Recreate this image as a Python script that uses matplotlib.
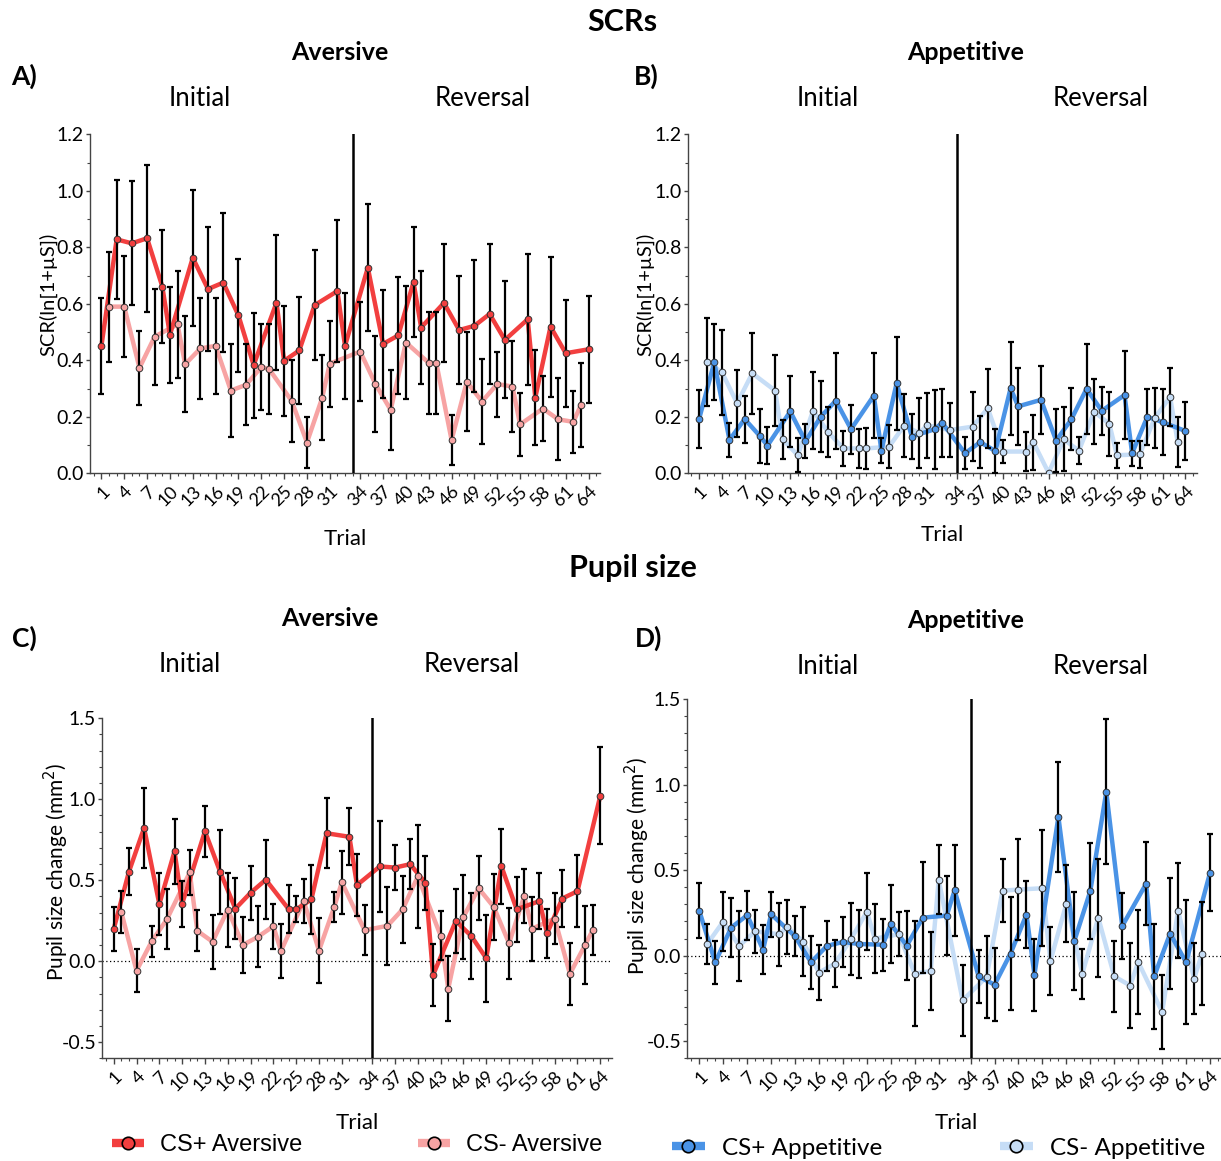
import numpy as np
import matplotlib
matplotlib.use('Agg')
import matplotlib.pyplot as plt
from matplotlib.lines import Line2D
from matplotlib.ticker import MultipleLocator, FormatStrFormatter

plt.rcParams['font.family'] = ['Lato', 'DejaVu Sans']

W, H = 1221, 1161

# trial positions on the x axis (one empty slot at the reversal)
csp_x = [1, 3, 5, 7, 9, 10, 13, 15, 17, 19, 21, 24, 25, 27, 29, 32, 33,
         36, 38, 40, 42, 43, 46, 48, 50, 52, 54, 57, 58, 60, 62, 65]
csm_x = [2, 4, 6, 8, 11, 12, 14, 16, 18, 20, 22, 23, 26, 28, 30, 31,
         34, 37, 39, 41, 44, 45, 47, 49, 51, 53, 55, 56, 59, 61, 63, 64]
csm_x_scr_av = [2, 4, 6, 8, 11, 12, 14, 16, 18, 20, 22, 23, 26, 28, 30, 31,
                35, 37, 39, 41, 44, 45, 47, 49, 51, 53, 55, 56, 59, 61, 63, 64]

tick_pos = list(range(1, 32, 3)) + list(range(35, 66, 3))
tick_lab = [str(t) for t in range(1, 32, 3)] + [str(t) for t in range(34, 65, 3)]

# A) SCR aversive
scr_av_p = [0.451, 0.828, 0.814, 0.832, 0.661, 0.49, 0.763, 0.652, 0.675, 0.559, 0.383,
            0.604, 0.398, 0.435, 0.595, 0.645, 0.451,
            0.728, 0.458, 0.488, 0.677, 0.516, 0.603, 0.507, 0.522, 0.564, 0.472,
            0.545, 0.268, 0.519, 0.425, 0.439]
scr_av_p_err = [0.17, 0.21, 0.22, 0.26, 0.2, 0.17, 0.24, 0.22, 0.245, 0.2, 0.186,
                0.24, 0.195, 0.19, 0.195, 0.25, 0.187,
                0.225, 0.19, 0.206, 0.195, 0.2, 0.21, 0.19, 0.233, 0.248, 0.207,
                0.232, 0.169, 0.248, 0.19, 0.19]
scr_av_m = [0.59, 0.59, 0.373, 0.484, 0.527, 0.386, 0.442, 0.451, 0.293, 0.313, 0.376,
            0.37, 0.256, 0.109, 0.267, 0.388,
            0.431, 0.316, 0.224, 0.463, 0.391, 0.39, 0.118, 0.324, 0.254, 0.316,
            0.307, 0.173, 0.229, 0.191, 0.182, 0.242]
scr_av_m_err = [0.195, 0.18, 0.13, 0.17, 0.19, 0.17, 0.18, 0.17, 0.165, 0.143, 0.153,
                0.16, 0.146, 0.092, 0.15, 0.152,
                0.174, 0.17, 0.143, 0.2, 0.18, 0.18, 0.087, 0.175, 0.15, 0.115,
                0.16, 0.112, 0.115, 0.145, 0.11, 0.149]

# B) SCR appetitive
scr_ap_p = [0.192, 0.393, 0.118, 0.192, 0.132, 0.098, 0.219, 0.113, 0.2, 0.257, 0.156,
            0.275, 0.08, 0.319, 0.13, 0.156, 0.179,
            0.071, 0.11, 0.079, 0.301, 0.237, 0.26, 0.116, 0.191, 0.299, 0.221,
            0.277, 0.071, 0.2, 0.181, 0.15]
scr_ap_p_err = [0.104, 0.135, 0.06, 0.083, 0.095, 0.065, 0.125, 0.06, 0.125, 0.17, 0.087,
                0.15, 0.045, 0.165, 0.08, 0.14, 0.12,
                0.056, 0.093, 0.077, 0.164, 0.137, 0.12, 0.113, 0.11, 0.16, 0.084,
                0.155, 0.045, 0.1, 0.117, 0.103]
scr_ap_m = [0.395, 0.358, 0.248, 0.354, 0.293, 0.12, 0.064, 0.222, 0.145, 0.088, 0.088,
            0.088, 0.094, 0.169, 0.142, 0.17,
            0.153, 0.165, 0.23, 0.077, 0.077, 0.11, 0.002, 0.12, 0.08, 0.218,
            0.175, 0.064, 0.067, 0.197, 0.27, 0.11]
scr_ap_m_err = [0.156, 0.15, 0.118, 0.144, 0.126, 0.07, 0.06, 0.135, 0.088, 0.063, 0.068,
                0.073, 0.077, 0.11, 0.125, 0.115,
                0.097, 0.122, 0.14, 0.042, 0.07, 0.098, 0.0, 0.113, 0.048, 0.115,
                0.113, 0.044, 0.047, 0.106, 0.103, 0.088]

# C) pupil aversive
pup_av_p = [0.198, 0.552, 0.823, 0.352, 0.678, 0.354, 0.802, 0.552, 0.324, 0.422, 0.503,
            0.322, 0.32, 0.381, 0.79, 0.768, 0.47,
            0.585, 0.578, 0.599, 0.483, -0.086, 0.248, 0.157, 0.018, 0.585, 0.32,
            0.371, 0.171, 0.387, 0.432, 1.022]
pup_av_p_err = [0.135, 0.145, 0.247, 0.19, 0.2, 0.143, 0.158, 0.26, 0.19, 0.167, 0.243,
                0.148, 0.08, 0.216, 0.217, 0.176, 0.19,
                0.28, 0.14, 0.153, 0.168, 0.193, 0.2, 0.267, 0.27, 0.232, 0.2,
                0.173, 0.152, 0.174, 0.223, 0.3]
pup_av_m = [0.303, -0.059, 0.122, 0.259, 0.548, 0.187, 0.12, 0.318, 0.1, 0.151, 0.216,
            0.063, 0.371, 0.065, 0.334, 0.487,
            0.191, 0.218, 0.32, 0.523, 0.157, -0.171, 0.273, 0.45, 0.334, 0.11,
            0.403, 0.2, 0.263, -0.079, 0.1, 0.191]
pup_av_m_err = [0.13, 0.132, 0.097, 0.185, 0.138, 0.127, 0.167, 0.228, 0.171, 0.188, 0.138,
                0.168, 0.138, 0.2, 0.094, 0.194,
                0.153, 0.239, 0.205, 0.318, 0.15, 0.2, 0.26, 0.197, 0.204, 0.22,
                0.165, 0.196, 0.158, 0.193, 0.243, 0.154]

# D) pupil appetitive
pup_ap_p = [0.263, -0.039, 0.164, 0.236, 0.035, 0.242, 0.113, -0.039, 0.057, 0.08, 0.068,
            0.064, 0.185, 0.058, 0.222, 0.234, 0.382,
            -0.121, -0.17, 0.012, 0.24, -0.111, 0.811, 0.086, 0.378, 0.957, 0.173,
            0.421, -0.121, 0.129, -0.039, 0.485]
pup_ap_p_err = [0.162, 0.126, 0.173, 0.142, 0.145, 0.132, 0.117, 0.156, 0.146, 0.146, 0.2,
                0.152, 0.228, 0.203, 0.323, 0.23, 0.265,
                0.153, 0.213, 0.33, 0.195, 0.21, 0.322, 0.286, 0.283, 0.424, 0.192,
                0.242, 0.307, 0.326, 0.362, 0.225]
pup_ap_m = [0.068, 0.199, 0.057, 0.142, 0.125, 0.168, 0.082, -0.099, -0.047, 0.096, 0.257,
            0.099, 0.125, -0.105, -0.09, 0.444,
            -0.261, -0.125, 0.38, 0.386, 0.394, -0.031, 0.304, -0.105, 0.222, -0.121,
            -0.175, -0.037, -0.329, 0.263, -0.135, 0.012]
pup_ap_m_err = [0.118, 0.173, 0.206, 0.124, 0.185, 0.158, 0.2, 0.16, 0.138, 0.21, 0.224,
                0.2, 0.13, 0.305, 0.23, 0.203,
                0.207, 0.237, 0.185, 0.294, 0.34, 0.2, 0.225, 0.146, 0.344, 0.207,
                0.249, 0.304, 0.215, 0.278, 0.209, 0.303]

red, pink = '#F23F3F', '#F7A3A3'
blue, lblue = '#4A93E6', '#C6DDF6'


def fx(x):
    return x / W


def fy(y):
    return 1 - y / H


fig = plt.figure(figsize=(W / 100, H / 100), dpi=100)


def make_ax(l, t, r, b):
    return fig.add_axes([fx(l), fy(b), (r - l) / W, (b - t) / H])


def draw(ax, xp, yp, ep, xm, ym, em, cp, cm, vline, ylim, ymaj):
    ax.plot(xm, ym, color=cm, lw=3.2, zorder=2, solid_joinstyle='round')
    ax.plot(xp, yp, color=cp, lw=3.2, zorder=3, solid_joinstyle='round')
    ax.errorbar(xm, ym, yerr=em, fmt='none', ecolor='black', elinewidth=1.6,
                capsize=2.5, capthick=1.6, zorder=4)
    ax.errorbar(xp, yp, yerr=ep, fmt='none', ecolor='black', elinewidth=1.6,
                capsize=2.5, capthick=1.6, zorder=4)
    ax.plot(xm, ym, 'o', ms=4.8, mfc=cm, mec='#333333', mew=0.7, zorder=5)
    ax.plot(xp, yp, 'o', ms=4.8, mfc=cp, mec='#333333', mew=0.7, zorder=5)
    ax.axvline(vline, color='black', lw=1.8, zorder=6)
    if ylim[0] < 0:
        ax.axhline(0, color='black', lw=0.9, ls=(0, (1, 2)), zorder=1)
    ax.set_xlim(-0.5, 66.5)
    ax.set_ylim(*ylim)
    ax.yaxis.set_major_locator(MultipleLocator(ymaj))
    ax.yaxis.set_minor_locator(MultipleLocator(0.1))
    ax.xaxis.set_minor_locator(MultipleLocator(1))
    ax.set_xticks(tick_pos)
    ax.set_xticklabels(tick_lab, rotation=45, ha='right', rotation_mode='anchor',
                       fontsize=13)
    ax.tick_params(axis='y', labelsize=14, length=3, width=1, color='#444444', pad=1.5)
    ax.tick_params(axis='x', length=4, width=1, color='#444444', pad=3)
    ax.tick_params(which='minor', length=2, width=0.8, color='#444444')
    ax.yaxis.set_major_formatter(FormatStrFormatter('%.1f'))
    for s in ['top', 'right']:
        ax.spines[s].set_visible(False)
    for s in ['left', 'bottom']:
        ax.spines[s].set_color('#444444')
        ax.spines[s].set_linewidth(1)


axA = make_ax(90, 134.3, 600, 473.3)
draw(axA, csp_x, scr_av_p, scr_av_p_err, csm_x_scr_av, scr_av_m, scr_av_m_err,
     red, pink, 34, (0, 1.2), 0.2)
axB = make_ax(687.7, 134.3, 1196.7, 473.3)
draw(axB, csp_x, scr_ap_p, scr_ap_p_err, csm_x, scr_ap_m, scr_ap_m_err,
     blue, lblue, 35, (0, 1.2), 0.2)
axC = make_ax(102.3, 718.3, 611.7, 1058.3)
draw(axC, csp_x, pup_av_p, pup_av_p_err, csm_x, pup_av_m, pup_av_m_err,
     red, pink, 35, (-0.6, 1.5), 0.5)
axD = make_ax(687.3, 699, 1222, 1058.3)
draw(axD, csp_x, pup_ap_p, pup_ap_p_err, csm_x, pup_ap_m, pup_ap_m_err,
     blue, lblue, 35, (-0.6, 1.5), 0.5)


def txt(x, y, s, **kw):
    fig.text(fx(x), fy(y), s, ha='center', va='center', **kw)


txt(622, 22, 'SCRs', fontsize=22, fontweight='bold')
txt(633, 568, 'Pupil size', fontsize=22, fontweight='bold')
txt(340, 52, 'Aversive', fontsize=18, fontweight='bold')
txt(966, 52, 'Appetitive', fontsize=18, fontweight='bold')
txt(330, 618, 'Aversive', fontsize=18, fontweight='bold')
txt(966, 620, 'Appetitive', fontsize=18, fontweight='bold')
txt(24, 76, 'A)', fontsize=19, fontweight='bold')
txt(646, 76, 'B)', fontsize=19, fontweight='bold')
txt(24, 638, 'C)', fontsize=19, fontweight='bold')
txt(649, 638, 'D)', fontsize=19, fontweight='bold')
for (xi, xr, yy) in [(200, 483, 98), (828, 1101, 98), (190, 472, 664), (828, 1101, 666)]:
    txt(xi, yy, 'Initial', fontsize=18.5)
    txt(xr, yy, 'Reversal', fontsize=18.5)
for (xx, yy) in [(345, 539), (942, 535), (357, 1123), (956, 1123)]:
    txt(xx, yy, 'Trial', fontsize=16)
txt(48, 294, 'SCR(ln[1+µS])', fontsize=14.5, rotation=90)
txt(645, 294, 'SCR(ln[1+µS])', fontsize=14.5, rotation=90)
txt(56, 872, 'Pupil size change (mm$^2$)', fontsize=15, rotation=90)
txt(637, 866, 'Pupil size change (mm$^2$)', fontsize=15, rotation=90)


def leg(x, y, color, label, family, size):
    h = Line2D([], [], color=color, lw=6, marker='o', ms=9, mfc=color,
               mec='black', mew=1.2, solid_capstyle='butt')
    fig.legend(handles=[h], labels=[label], loc='center left',
               bbox_to_anchor=(fx(x), fy(y)), frameon=False, borderpad=0,
               borderaxespad=0, handlelength=1.35, handletextpad=0.7,
               prop={'family': family, 'size': size})


leg(112, 1145, red, 'CS+ Aversive', 'Liberation Sans', 17)
leg(418, 1145, pink, 'CS- Aversive', 'Liberation Sans', 17)
leg(672, 1148, blue, 'CS+ Appetitive', 'Lato', 17.5)
leg(1000, 1148, lblue, 'CS- Appetitive', 'Lato', 17.5)

fig.savefig('out.png', dpi=100)
